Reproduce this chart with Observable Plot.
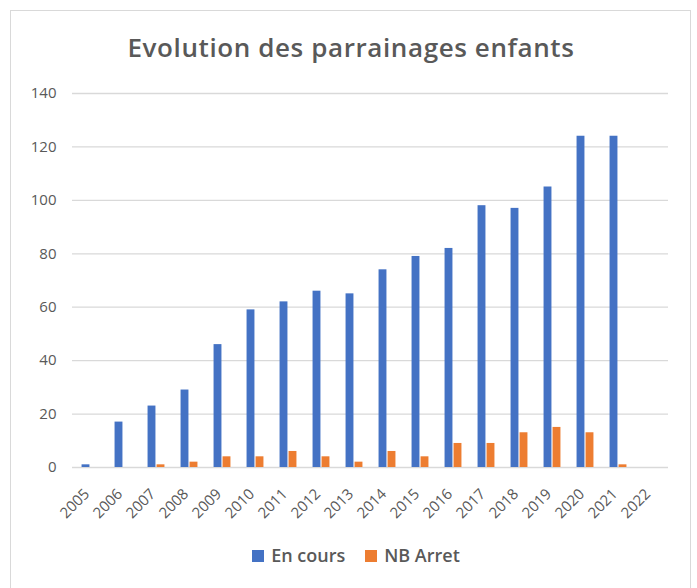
<!DOCTYPE html>
<html><head><meta charset="utf-8">
<script src="https://cdn.jsdelivr.net/npm/d3@7"></script>
<script src="https://cdn.jsdelivr.net/npm/@observablehq/plot@0.6"></script>
<style>
body{margin:0;background:#fff;font-family:"Open Sans",sans-serif;}
#frame{position:absolute;left:10px;top:10px;width:681px;height:600px;border:1px solid #d9d9d9;box-sizing:border-box;}
#title{position:absolute;left:0;top:29px;width:702px;text-align:center;font-size:26px;letter-spacing:0.6px;color:#595959;font-weight:600;line-height:36px;}
#chart{position:absolute;left:0;top:0;}
#legend{position:absolute;top:542px;left:0;width:712px;text-align:center;font-size:18px;font-weight:600;color:#595959;line-height:26px;}
#legend span.sw{display:inline-block;width:12px;height:12px;margin-right:7px;vertical-align:0px;}
#legend span.item{margin:0 10px;}
</style>
</head><body>
<div id="frame"></div>
<div id="chart"></div>
<div id="title">Evolution des parrainages enfants</div>
<div id="legend"></div>
<script>
const years = ["2005","2006","2007","2008","2009","2010","2011","2012","2013","2014","2015","2016","2017","2018","2019","2020","2021","2022"];
const enCours = [1,17,23,29,46,59,62,66,65,74,79,82,98,97,105,124,124,null];
const nbArret = [0,0,1,2,4,4,6,4,2,6,4,9,9,13,15,13,1,null];
const yTicks = [0,20,40,60,80,100,120,140];
const seriesNames = ["En cours","NB Arret"];
const seriesColors = ["#4472C4","#ED7D31"];

const rows = years.map((y,i)=>({year:y, enCours:enCours[i], nbArret:nbArret[i]}));
const half = 596/18/2;
const bw = 8;

const chart = Plot.plot({
  width:697, height:535,
  marginLeft:72, marginRight:29, marginTop:93, marginBottom:68,
  style:{fontFamily:"'Open Sans', sans-serif", color:"#595959", background:"transparent"},
  x:{domain:years, padding:0, label:null},
  y:{domain:[0,140], label:null},
  marks:[
    Plot.gridY(yTicks, {stroke:"#d9d9d9", strokeOpacity:1, strokeWidth:1.3}),
    Plot.barY(rows.filter(d=>d.enCours!=null), {x:"year", y:"enCours", fill:seriesColors[0], insetLeft:half-bw, insetRight:half}),
    Plot.barY(rows.filter(d=>d.nbArret!=null), {x:"year", y:"nbArret", fill:seriesColors[1], insetLeft:half+1, insetRight:half-bw-1}),
    Plot.axisY(yTicks, {tickSize:0, tickPadding:16, fontSize:15, label:null}),
    Plot.axisX({tickSize:0, tickPadding:6, tickRotate:-45, fontSize:15, label:null, dx:-3, dy:18})
  ]
});
document.getElementById("chart").appendChild(chart);

const leg = document.getElementById("legend");
seriesNames.forEach((n,i)=>{
  const it = document.createElement("span"); it.className="item";
  const sw = document.createElement("span"); sw.className="sw"; sw.style.background=seriesColors[i];
  it.appendChild(sw); it.appendChild(document.createTextNode(n));
  leg.appendChild(it);
});
</script>
</body></html>
